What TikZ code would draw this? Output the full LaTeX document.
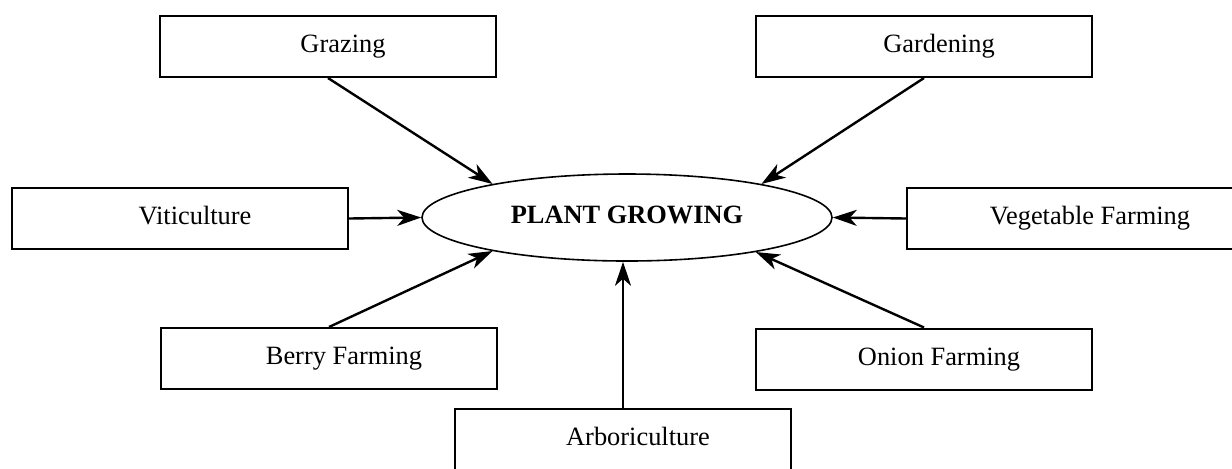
\documentclass[tikz,border=0pt]{standalone}
\usepackage{fontspec}
\setmainfont{Liberation Serif}
\usetikzlibrary{arrows.meta,shapes.geometric}
\begin{document}
\begin{tikzpicture}[x=0.5pt, y=-0.5pt,
    every node/.style={font=\fontsize{13.2pt}{15pt}\selectfont, text height=9pt, text depth=3pt},
    farmbox/.style={draw, line width=1pt, minimum width=168pt, minimum height=30.5pt, inner sep=0pt},
    feeds/.style={line width=1.2pt, -{Stealth[length=12pt, width=8pt, inset=3.5pt]}}]
      \useasboundingbox (0,0) rectangle (1232,468);
      %
      \node[draw, ellipse, line width=0.8pt, minimum width=205pt, minimum height=43.5pt, inner sep=0pt,
            font=\fontsize{13.2pt}{15pt}\selectfont\bfseries] (plant) at (627,217.5) {PLANT GROWING}; % centre
      %
      \node[farmbox] (grazing)   at (328,46.5)  {\hspace*{15pt}Grazing};           % top row
      \node[farmbox] (gardening) at (924,46.5)  {\hspace*{15pt}Gardening};
      %
      \node[farmbox] (viti)      at (180,218.5) {\hspace*{15pt}Viticulture};       % middle row
      \node[farmbox] (veg)       at (1075,218.5){\hspace*{15pt}Vegetable Farming};
      %
      \node[farmbox] (berry)     at (329,358.5) {\hspace*{15pt}Berry Farming};     % bottom row
      \node[farmbox] (onion)     at (924,359)   {\hspace*{15pt}Onion Farming};
      \node[farmbox] (arbori)    at (623,439.5) {\hspace*{15pt}Arboriculture};
      %
      \draw[feeds] (grazing.south)   -- (plant.166);  % arrows into the centre
      \draw[feeds] (gardening.south) -- (plant.14);
      \draw[feeds] (viti.east)       -- (plant.west);
      \draw[feeds] (veg.west)        -- (plant.east);
      \draw[feeds] (berry.north)     -- (plant.194);
      \draw[feeds] (onion.north)     -- (plant.345);
      \draw[feeds] (arbori.north)    -- (arbori.north |- plant.south);
      %
\end{tikzpicture}
\end{document}
